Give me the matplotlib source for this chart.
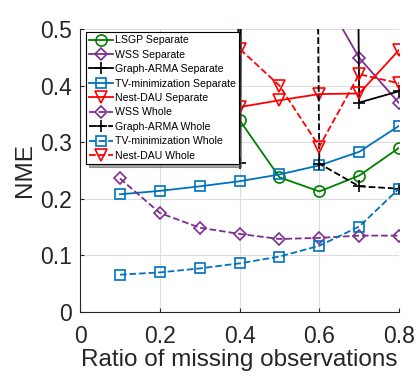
import matplotlib
matplotlib.use("Agg")
import matplotlib.pyplot as plt
import numpy as np

plt.rcParams['font.family'] = ['Liberation Sans', 'DejaVu Sans']

ratio = [0.1, 0.2, 0.3, 0.4, 0.5, 0.6, 0.7, 0.8]

# values above 0.5 leave the plotted window (exact values not readable)
lsgp_sep = [8.0, 8.0, 8.0, 0.339, 0.238, 0.213, 0.241, 0.290]
wss_sep = [8.0, 8.0, 8.0, 8.0, 1.5, 0.572, 0.449, 0.369]
arma_sep = [8.0, 8.0, 8.0, 0.264, 8.0, 8.0, 0.370, 0.390]
tv_sep = [0.208, 0.214, 0.222, 0.231, 0.243, 0.259, 0.283, 0.329]
dau_sep = [0.330, 0.340, 0.350, 0.362, 0.374, 0.385, 0.386, 0.463]
wss_whole = [0.236, 0.175, 0.149, 0.138, 0.129, 0.131, 0.135, 0.135]
arma_whole = [8.0, 8.0, 8.0, 8.0, 8.0, 0.262, 0.222, 0.218]
tv_whole = [0.066, 0.070, 0.077, 0.086, 0.098, 0.117, 0.151, 0.218]
dau_whole = [0.273, 0.330, 0.400, 0.465, 0.400, 0.292, 0.420, 0.404]

green = '#008000'
purple = '#7E2F8E'
blue = '#0072BD'
red = '#FF0000'

fig = plt.figure(figsize=(4.17, 3.81), dpi=100)
ax = fig.add_axes([0.192, 0.181, 0.765, 0.743])

kw = dict(lw=1.3, ms=8, mfc='none', mew=1.2)
ax.plot(ratio, lsgp_sep, '-o', color=green, label='LSGP Separate', **kw)
ax.plot(ratio, wss_sep, '-D', color=purple, label='WSS Separate', lw=1.3, ms=6.5, mfc='none', mew=1.2)
ax.plot(ratio, arma_sep, '-+', color='black', label='Graph-ARMA Separate', lw=1.3, ms=9, mew=1.2)
ax.plot(ratio, tv_sep, '-s', color=blue, label='TV-minimization Separate', lw=1.3, ms=6.5, mfc='none', mew=1.2)
ax.plot(ratio, dau_sep, '-v', color=red, label='Nest-DAU Separate', **kw)
ax.plot(ratio, wss_whole, '--D', color=purple, label='WSS Whole', lw=1.3, ms=6.5, mfc='none', mew=1.2)
ax.plot(ratio, arma_whole, '--+', color='black', label='Graph-ARMA Whole', lw=1.3, ms=9, mew=1.2)
ax.plot(ratio, tv_whole, '--s', color=blue, label='TV-minimization Whole', lw=1.3, ms=6.5, mfc='none', mew=1.2)
ax.plot(ratio, dau_whole, '--v', color=red, label='Nest-DAU Whole', **kw)

ax.set_xlim(0, 0.8)
ax.set_ylim(0, 0.5)
ax.set_xticks([0, 0.2, 0.4, 0.6, 0.8])
ax.set_xticklabels(['0', '0.2', '0.4', '0.6', '0.8'])
ax.set_yticks([0, 0.1, 0.2, 0.3, 0.4, 0.5])
ax.set_yticklabels(['0', '0.1', '0.2', '0.3', '0.4', '0.5'])
ax.tick_params(direction='in', labelsize=16.5, colors='#262626', length=3)
ax.tick_params(axis='x', pad=9)
ax.tick_params(axis='y', pad=6)
ax.grid(True, color='#dddddd', lw=0.8)
ax.set_axisbelow(True)
for s in ['top', 'right']:
    ax.spines[s].set_visible(False)
for s in ['left', 'bottom']:
    ax.spines[s].set_color('#262626')

ax.set_xlabel('Ratio of missing observations', fontsize=17.5, color='#262626', labelpad=1)
ax.set_ylabel('NME', fontsize=17.5, color='#262626', labelpad=3)

leg = ax.legend(loc='upper left', bbox_to_anchor=(0.019, 0.989), fontsize=7.6,
                frameon=True, fancybox=False, shadow=True, handlelength=2.2,
                handletextpad=0.2, labelspacing=0.42, borderpad=0.3,
                borderaxespad=0.0)
leg.get_frame().set_edgecolor('black')
leg.get_frame().set_linewidth(0.8)

fig.savefig('out.png', dpi=100)
